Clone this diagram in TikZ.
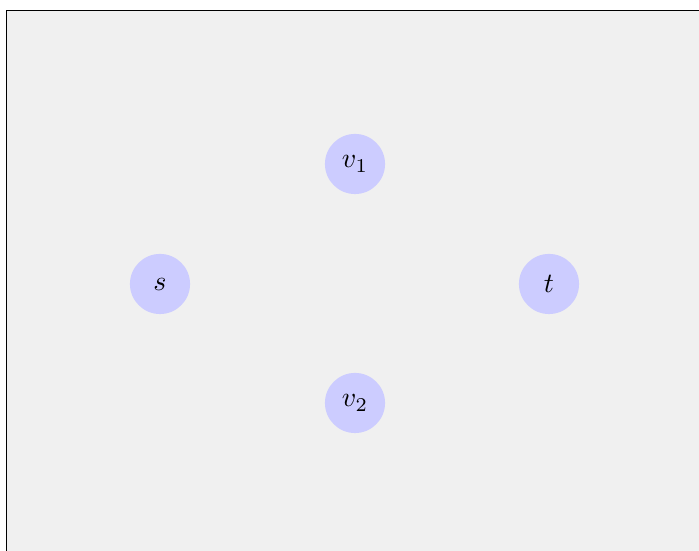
\documentclass[tikz,border=0pt]{standalone}
\begin{document}
\begin{tikzpicture}[x=0.3577pt,y=-0.3577pt,
  vert/.style={circle,fill=blue!20,minimum size=21.5pt,inner sep=0pt}]
\useasboundingbox (0,0) rectangle (699,551);
\clip (0,0) rectangle (699,551);
\draw[fill=black!6,line width=0.5pt] (6.5,10.5) rectangle (720,570);
\node[vert] (s) at (160,284) {$s$};
\node[vert] (v1) at (355,164) {$v_1$};
\node[vert] (t) at (549,284) {$t$};
\node[vert] (v2) at (355,403) {$v_2$};
\end{tikzpicture}
\end{document}
